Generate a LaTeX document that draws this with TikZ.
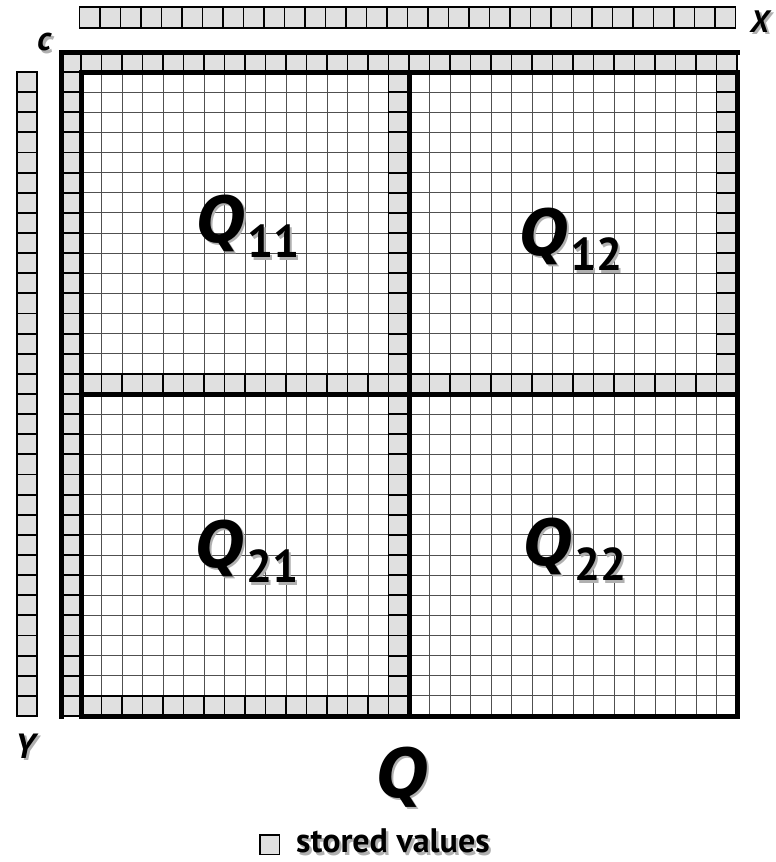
\documentclass[tikz,border=0pt]{standalone}
\usepackage{fontspec}
\setmainfont{PT Sans}
\newfontfamily\qfam{DejaVu Sans}
\definecolor{cellgray}{HTML}{E0E0E0}
\definecolor{gridgray}{HTML}{505050}
\definecolor{shadowgray}{HTML}{B0B0B0}
\tikzset{
  cellbox/.style={fill=cellgray,draw=black,line width=1.8pt},
  gridline/.style={draw=gridgray,line width=0.9pt},
  heavy/.style={draw=black,line width=5pt,line cap=rect},
  txt/.style={inner sep=0pt,anchor=base west,text=black},
}
\newcommand\shadowed[1]{\rlap{\color{shadowgray}\hspace{2.5pt}\raisebox{-2.5pt}{#1}}#1}
\newcommand\bigQ[1]{\scalebox{0.9}[1]{\qfam\fontsize{#1}{#1}\selectfont\bfseries\itshape Q}}
\newcommand\sfont{\fontsize{46}{46}\selectfont\bfseries\upshape}
\newcommand\qlab[2]{\shadowed{\bigQ{64}\hspace{1pt}\raisebox{-15.5pt}{\sfont #1#2}}}
\begin{document}
\begin{tikzpicture}[x=1pt,y=-1pt]
\useasboundingbox (0,0) rectangle (776,862);
\def\xa{81}\def\cw{20.5}
\def\ya{72}\def\ch{20.125}
% thin grid
\foreach \i in {1,...,31}{
  \draw[gridline] ({\xa+\i*\cw},\ya) -- ({\xa+\i*\cw},716);
  \draw[gridline] (\xa,{\ya+\i*\ch}) -- (737,{\ya+\i*\ch});
}
% X vector
\foreach \i in {0,...,31}{
  \draw[cellbox] ({\xa-1.5+\i*\cw},7) rectangle ({\xa-1.5+(\i+1)*\cw},28);
}
% Y vector
\foreach \j in {0,...,31}{
  \draw[cellbox] (17,{\ya+\j*\ch}) rectangle (37,{\ya+(\j+1)*\ch});
}
% top row c
\draw[cellbox] (61.5,52) rectangle (\xa,\ya);
\foreach \i in {0,...,31}{
  \draw[cellbox] ({\xa+\i*\cw},52) rectangle ({\xa+(\i+1)*\cw},\ya);
}
% left column c
\foreach \j in {0,...,31}{
  \draw[cellbox] (61.5,{\ya+\j*\ch}) rectangle (\xa,{\ya+(\j+1)*\ch});
}
% middle column and right column
\foreach \j in {0,...,31}{
  \draw[cellbox] ({\xa+15*\cw},{\ya+\j*\ch}) rectangle ({\xa+16*\cw},{\ya+(\j+1)*\ch});
}
\foreach \j in {0,...,15}{
  \draw[cellbox] ({\xa+31*\cw},{\ya+\j*\ch}) rectangle ({\xa+32*\cw},{\ya+(\j+1)*\ch});
}
% middle row and bottom row
\foreach \i in {0,...,31}{
  \draw[cellbox] ({\xa+\i*\cw},{\ya+15*\ch}) rectangle ({\xa+(\i+1)*\cw},{\ya+16*\ch});
}
\foreach \i in {0,...,15}{
  \draw[cellbox] ({\xa+\i*\cw},{\ya+31*\ch}) rectangle ({\xa+(\i+1)*\cw},{\ya+32*\ch});
}
% heavy lines
\draw[heavy] (61.5,716) -- (61.5,52) -- (737,52);
\draw[heavy] (\xa,\ya) rectangle (737,716);
\draw[heavy] ({\xa+16*\cw},\ya) -- ({\xa+16*\cw},716);
\draw[heavy] (\xa,{\ya+16*\ch}) -- (737,{\ya+16*\ch});
% labels
\node[txt] (q11) at (197,242) {\qlab11};
\node[txt] (q12) at (520,255) {\qlab12};
\node[txt] (q21) at (196,567) {\qlab21};
\node[txt] (q22) at (524,565) {\qlab22};
\node[txt] (bigq) at (377,797) {\shadowed{\bigQ{68}}};
\node[txt] (c) at (37,50.5) {\shadowed{\fontsize{34}{34}\selectfont\bfseries\itshape c}};
\node[txt] (xl) at (750,32) {\shadowed{\fontsize{31}{31}\selectfont\bfseries\itshape X}};
\node[txt] (yl) at (15,758) {\shadowed{\fontsize{35}{35}\selectfont\bfseries\itshape Y}};
\draw[fill=cellgray,draw=black,line width=1.5pt] (260,835) rectangle (279.5,854.5);
\node[txt] (leg) at (296,852.5) {\shadowed{\fontsize{34}{34}\selectfont\bfseries stored values}};
\end{tikzpicture}
\end{document}
